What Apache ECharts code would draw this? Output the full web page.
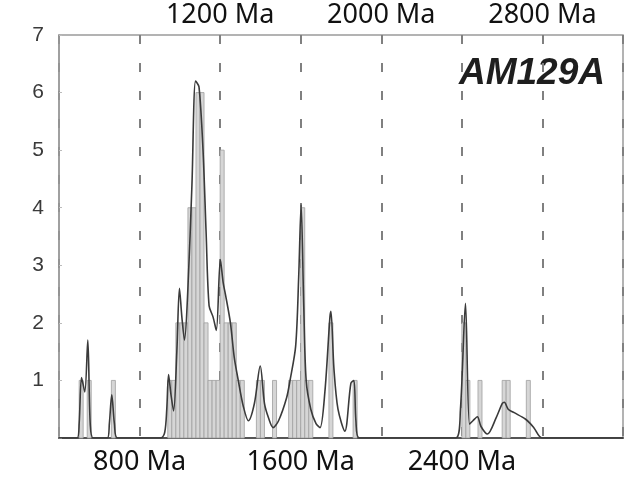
<!DOCTYPE html>
<html>
<head>
<meta charset="utf-8">
<script src="https://cdn.jsdelivr.net/npm/echarts@6/dist/echarts.min.js"></script>
<style>html,body{margin:0;padding:0;background:#fff}#c{width:629px;height:491px}</style>
</head>
<body>
<div id="c"></div>
<script>
// ---- data ----
const sampleName = 'AM129A';
const ageMin = 400, ageMax = 3200, ageStep = 400;
const yMin = 0, yMax = 7;
const binWidth = 20; // Ma
const binStarts = [500, 540, 660, 940, 960, 980, 1000, 1020, 1040, 1060, 1080, 1100, 1120, 1140, 1160, 1180, 1200, 1220, 1240, 1260, 1280, 1300, 1380, 1400, 1460, 1540, 1560, 1580, 1600, 1620, 1640, 1740, 1860, 2400, 2420, 2480, 2600, 2620, 2720];
const binCounts = [1, 1, 1, 1, 1, 2, 2, 2, 4, 4, 6, 6, 2, 1, 1, 1, 5, 2, 2, 2, 1, 1, 1, 1, 1, 1, 1, 1, 4, 1, 1, 2, 1, 2, 1, 1, 1, 1, 1];
const curveAges = [400, 490, 500, 512, 528, 543, 555, 570, 640, 650, 662, 675, 690, 905, 925, 935, 944, 956, 969, 985, 998, 1010, 1023, 1040, 1060, 1078, 1095, 1115, 1130, 1145, 1165, 1181, 1201, 1215, 1226, 1251, 1270, 1290, 1315, 1340, 1370, 1399, 1420, 1440, 1463, 1490, 1530, 1547, 1575, 1590, 1602, 1615, 1627, 1650, 1676, 1696, 1720, 1745, 1750, 1765, 1785, 1819, 1849, 1864, 1874, 1890, 2370, 2393, 2418, 2438, 2455, 2477, 2495, 2527, 2570, 2601, 2611, 2630, 2660, 2715, 2740, 2759, 2799, 3200];
const curveValues = [0, 0, 0.25, 1.05, 0.8, 1.7, 0.25, 0, 0, 0.25, 0.75, 0.25, 0, 0, 0.1, 0.5, 1.1, 0.75, 0.47, 1.5, 2.6, 2.1, 1.7, 2.6, 4.4, 6.2, 6.1, 5.0, 3.6, 2.3, 2.1, 1.87, 3.1, 2.7, 2.5, 2.0, 1.4, 1.0, 0.55, 0.3, 0.6, 1.25, 0.6, 0.35, 0.18, 0.3, 0.7, 1.0, 1.6, 2.8, 4.05, 2.3, 1.0, 0.5, 0.25, 0.18, 0.8, 2.1, 2.2, 1.2, 0.5, 0.12, 0.95, 1.0, 0.3, 0, 0, 0.5, 2.34, 0.24, 0.3, 0.37, 0.2, 0.07, 0.35, 0.6, 0.62, 0.5, 0.44, 0.33, 0.25, 0.17, 0, 0];
const bottomLabels = [800, 1600, 2400];
const topLabels = [1200, 2000, 2800];

// ---- chart ----
const chart = echarts.init(document.getElementById('c'), null, {renderer: 'canvas'});
const binData = binStarts.map((s, i) => [s, s + binWidth, binCounts[i]]);
const curveData = curveAges.map((a, i) => [a, curveValues[i]]);
const labelFont = {fontFamily: 'Noto Sans', fontSize: 27, color: '#111'};

chart.setOption({
  animation: false,
  backgroundColor: '#fff',
  grid: {left: 59, right: 6, top: 35, bottom: 53, show: true, borderColor: '#9a9a9a', borderWidth: 1.5, backgroundColor: 'transparent'},
  xAxis: [
    {
      type: 'value', min: ageMin, max: ageMax, interval: ageStep, position: 'bottom',
      axisLine: {show: true, onZero: false, lineStyle: {color: '#555', width: 2}},
      axisTick: {show: false},
      splitLine: {show: true, lineStyle: {color: '#808080', width: 2, type: [9, 19]}},
      axisLabel: Object.assign({margin: 11, formatter: v => bottomLabels.includes(v) ? v + ' Ma' : ''}, labelFont)
    },
    {
      type: 'value', min: ageMin, max: ageMax, interval: ageStep, position: 'top',
      axisLine: {show: false}, axisTick: {show: false}, splitLine: {show: false},
      axisLabel: Object.assign({margin: 6, formatter: v => topLabels.includes(v) ? v + ' Ma' : ''}, labelFont)
    }
  ],
  yAxis: {
    type: 'value', min: yMin, max: yMax, interval: 1,
    axisLine: {show: true, lineStyle: {color: '#9a9a9a', width: 1.5}},
    axisTick: {show: true, inside: true, length: 3, lineStyle: {color: '#bbb'}},
    splitLine: {show: false},
    axisLabel: {margin: 15, fontFamily: 'Liberation Sans', fontSize: 21, color: '#3a3a3a', formatter: v => v === 0 ? '' : String(v)}
  },
  series: [
    {
      type: 'custom', z: 2,
      data: binData,
      encode: {x: [0, 1], y: 2},
      renderItem: function (params, api) {
        const p0 = api.coord([api.value(0), api.value(2)]);
        const p1 = api.coord([api.value(1), 0]);
        return {type: 'rect', shape: {x: p0[0], y: p0[1], width: p1[0] - p0[0], height: p1[1] - p0[1]},
          style: {fill: '#d6d6d6', stroke: '#a0a0a0', lineWidth: 0.8}};
      }
    },
    {
      type: 'line', z: 3, data: curveData, smooth: 0.3, symbol: 'none',
      lineStyle: {color: '#3a3a3a', width: 1.6}
    }
  ],
  graphic: [{
    type: 'text', right: 24, top: 55,
    style: {text: sampleName, font: 'italic bold 37px "Liberation Sans"', fill: '#1e1e1e'}
  }]
});
</script>
</body>
</html>
